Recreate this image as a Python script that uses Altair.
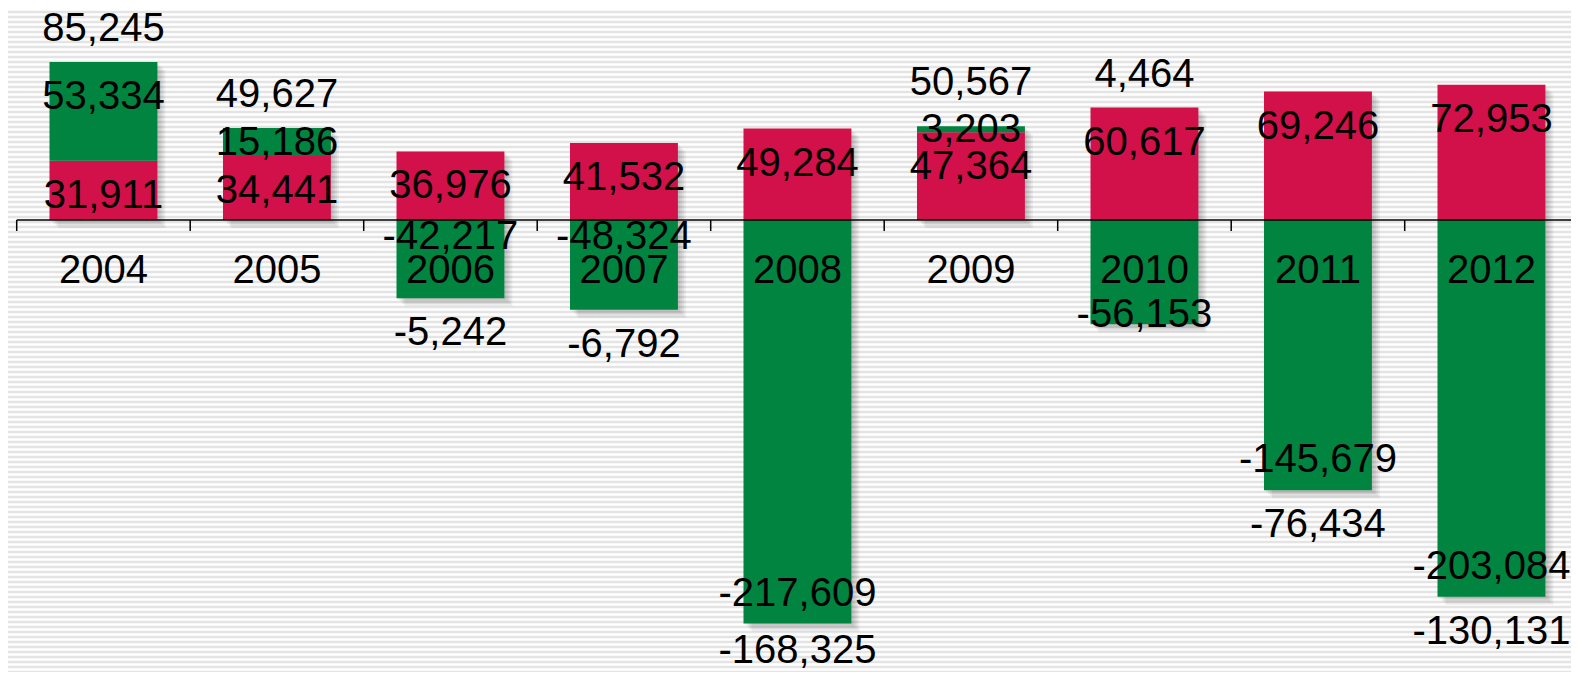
import altair as alt
import pandas as pd

# ---- data ----
years = ["2004", "2005", "2006", "2007", "2008", "2009", "2010", "2011", "2012"]
red_vals = [31911, 34441, 36976, 41532, 49284, 47364, 60617, 69246, 72953]
green_vals = [53334, 15186, -42217, -48324, -217609, 3203, -56153, -145679, -203084]
totals = [85245, 49627, -5242, -6792, -168325, 50567, 4464, -76434, -130131]

# ---- layout / style ----
W, H = 1563, 664
YMIN, YMAX = -243700, 114300
PX = H / (YMAX - YMIN)          # pixels per data unit
ZERO_PX = YMAX * PX             # pixel row of zero
RED, GREEN = "#D2104A", "#00843F"
FONT = "Liberation Sans"
FS = 40


def u(p):
    """pixel length -> data units"""
    return p / PX


def fmt(v):
    return f"{v:,}"


bars, labels, shadows = [], [], []
for yr, r, g, t in zip(years, red_vals, green_vals, totals):
    bars.append(dict(year=yr, s="red", y0=0, y1=r))
    r_top = r * PX
    labels.append(dict(year=yr, y=u(r_top - 34), text=fmt(r)))
    label_tops = [r_top - 34]
    if g >= 0:
        bars.append(dict(year=yr, s="green", y0=r, y1=r + g))
        seg = g * PX
        c = (r + g) * PX - min(34, seg / 2)
        labels.append(dict(year=yr, y=u(c), text=fmt(g)))
        label_tops.append(c)
        top_px = (r + g) * PX
        bottom_px = 0
    else:
        bars.append(dict(year=yr, s="green", y0=0, y1=g))
        bottom = -g * PX                      # pixels below zero
        c = bottom - 31
        if abs(c - 50) < 40:                  # collides with the year label
            c = 94 if 94 <= bottom - 10 else 16
        labels.append(dict(year=yr, y=u(-c), text=fmt(g)))
        top_px = r_top
        bottom_px = bottom
    shadows.append(dict(year=yr, y0=u(-bottom_px), y1=u(top_px)))
    if t >= 0:
        c = max(top_px + 34, max(label_tops) + 47)
        labels.append(dict(year=yr, y=u(c), text=fmt(t)))
    else:
        c = min(bottom_px + 34, (H - ZERO_PX) - 22)   # keep inside the canvas
        labels.append(dict(year=yr, y=u(-c), text=fmt(t)))
    labels.append(dict(year=yr, y=u(-50), text=yr))

bars_df = pd.DataFrame(bars)
labels_df = pd.DataFrame(labels)
shadow_df = pd.DataFrame(shadows)
ticks_df = pd.DataFrame(dict(year=years, y0=[0] * len(years), y1=[u(-11)] * len(years)))

xscale = alt.Scale(domain=years, range=[8.7, 1570.2], paddingInner=0, paddingOuter=0)
yscale = alt.Scale(domain=[YMIN, YMAX], nice=False, zero=False)
X = alt.X("year:N", scale=xscale, axis=None)
Y0 = alt.Y("y0:Q", scale=yscale, axis=None)

stripes = alt.Chart(alt.sequence(YMIN, YMAX, u(5), as_="s")).mark_rule(
    color="#e4e4e4", strokeWidth=2.4
).encode(y=alt.Y("s:Q", scale=yscale, axis=None), x=alt.value(0), x2=alt.value(W))

shadow_layers = [
    alt.Chart(shadow_df).mark_bar(
        width=alt.RelativeBandSize(0.622), color="black", opacity=0.06,
        xOffset=o, yOffset=o, y2Offset=o
    ).encode(x=X, y=Y0, y2="y1:Q")
    for o in (2, 4, 6, 8)
]

bar_layer = alt.Chart(bars_df).mark_bar(width=alt.RelativeBandSize(0.622)).encode(
    x=X,
    y=Y0,
    y2="y1:Q",
    color=alt.Color("s:N", scale=alt.Scale(domain=["red", "green"], range=[RED, GREEN]), legend=None),
)

axis_line = alt.Chart(pd.DataFrame({"z": [0]})).mark_rule(color="black", strokeWidth=1.5).encode(
    y=alt.Y("z:Q", scale=yscale, axis=None), x=alt.value(8.7), x2=alt.value(W)
)

tick_layer = alt.Chart(ticks_df).mark_rule(color="black", strokeWidth=1.5).encode(
    x=alt.X("year:N", scale=xscale, axis=None, bandPosition=0), y=Y0, y2="y1:Q"
)

text_layer = alt.Chart(labels_df).mark_text(
    font=FONT, fontSize=FS, color="black", baseline="middle", align="center", dy=1
).encode(x=X, y=alt.Y("y:Q", scale=yscale, axis=None), text="text:N")

chart = alt.layer(
    stripes, *shadow_layers, bar_layer, axis_line, tick_layer, text_layer
).properties(width=W, height=H, autosize="none", padding=0).configure_view(strokeWidth=0)

chart.save("out.html", embed_options={"renderer": "svg", "actions": False})
